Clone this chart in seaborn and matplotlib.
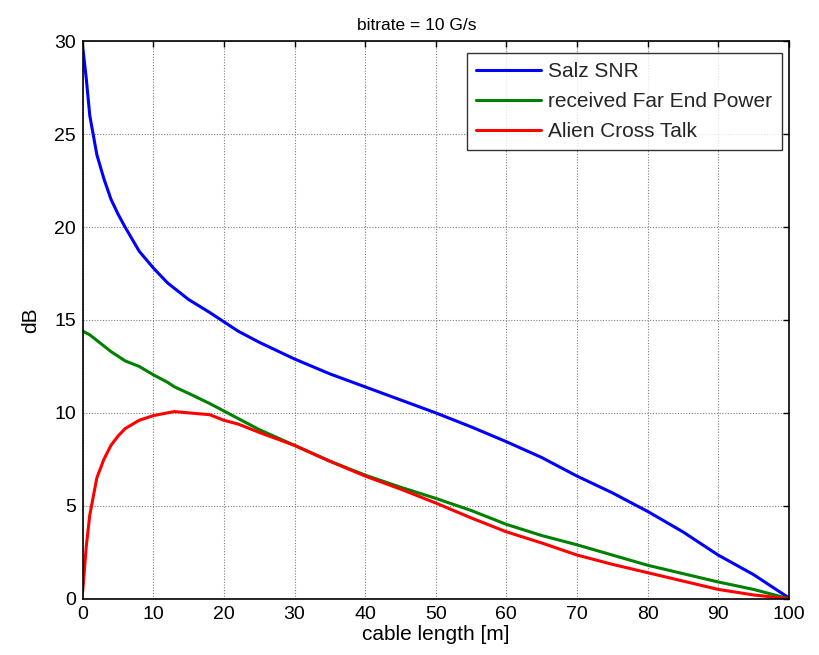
import matplotlib
matplotlib.use("Agg")
import matplotlib.pyplot as plt
import seaborn as sns
import pandas as pd

cable_length = [0, 0.5, 1, 2, 3, 4, 5, 6, 8, 10, 12, 13, 15, 18, 20, 22, 25, 30, 35, 40,
                45, 50, 55, 60, 65, 70, 75, 80, 85, 90, 95, 100]
salz_snr = [29.7, 28.0, 26.0, 23.9, 22.6, 21.5, 20.7, 20.0, 18.7, 17.8, 17.0, 16.7, 16.1, 15.4,
            14.9, 14.4, 13.8, 12.9, 12.1, 11.4, 10.7, 10.0, 9.25, 8.45, 7.6, 6.6, 5.7,
            4.7, 3.6, 2.35, 1.3, 0.05]
far_end_power = [14.4, 14.3, 14.2, 13.9, 13.6, 13.3, 13.05, 12.8, 12.5, 12.05, 11.65, 11.4, 11.05, 10.5,
                 10.1, 9.7, 9.1, 8.25, 7.4, 6.65, 6.0, 5.4, 4.75, 4.0, 3.4, 2.9, 2.35,
                 1.8, 1.35, 0.9, 0.5, 0.0]
alien_crosstalk = [0.4, 2.8, 4.5, 6.5, 7.5, 8.25, 8.75, 9.15, 9.6, 9.85, 10.0, 10.07, 10.0, 9.9,
                   9.6, 9.4, 8.95, 8.25, 7.4, 6.6, 5.9, 5.15, 4.35, 3.6, 3.0, 2.35, 1.85,
                   1.4, 0.95, 0.5, 0.2, 0.0]
series_names = ["Salz SNR", "received Far End Power", "Alien Cross Talk"]
series_colors = ["#0000ff", "#008000", "#ff0000"]
x_ticks = [0, 10, 20, 30, 40, 50, 60, 70, 80, 90, 100]
y_ticks = [0, 5, 10, 15, 20, 25, 30]

frames = []
for name, vals in zip(series_names, [salz_snr, far_end_power, alien_crosstalk]):
    frames.append(pd.DataFrame({"x": cable_length, "y": vals, "series": name}))
df = pd.concat(frames, ignore_index=True)

sns.set_theme(style="white")
plt.rcParams["font.family"] = ["Liberation Sans", "DejaVu Sans"]

fig = plt.figure(figsize=(8.19, 6.55), dpi=100)
ax = fig.add_axes([0.101, 0.086, 0.862, 0.851])

sns.lineplot(data=df, x="x", y="y", hue="series", hue_order=series_names,
             palette=series_colors, linewidth=2.2, ax=ax, sort=False, estimator=None)

ax.set_xlim(0, 100)
ax.set_ylim(0, 30)
ax.set_xticks(x_ticks)
ax.set_yticks(y_ticks)
ax.grid(True, color="#808080", linestyle=(0, (1, 1.5)), linewidth=0.8)
ax.set_axisbelow(True)
ax.tick_params(direction="in", top=True, right=True, length=4, width=1,
               labelsize=14, colors="black", pad=5)
for s in ax.spines.values():
    s.set_visible(True)
    s.set_color("black")
    s.set_linewidth(1.2)

ax.set_xlabel("cable length [m]", fontsize=15, color="black", labelpad=2)
ax.set_ylabel("dB", fontsize=15, color="black", labelpad=10)
ax.set_title("bitrate = 10 G/s", fontsize=12.5, color="black", pad=8, x=0.473)

leg = ax.legend(loc="upper right", bbox_to_anchor=(0.99, 0.979), borderaxespad=0,
                fontsize=15, frameon=True, fancybox=False, edgecolor="black",
                handlelength=3.1, handletextpad=0.35, labelspacing=0.52, borderpad=0.45)
leg.get_frame().set_linewidth(1.0)
leg.set_title(None)

fig.savefig("out.png", dpi=100, facecolor="white")
